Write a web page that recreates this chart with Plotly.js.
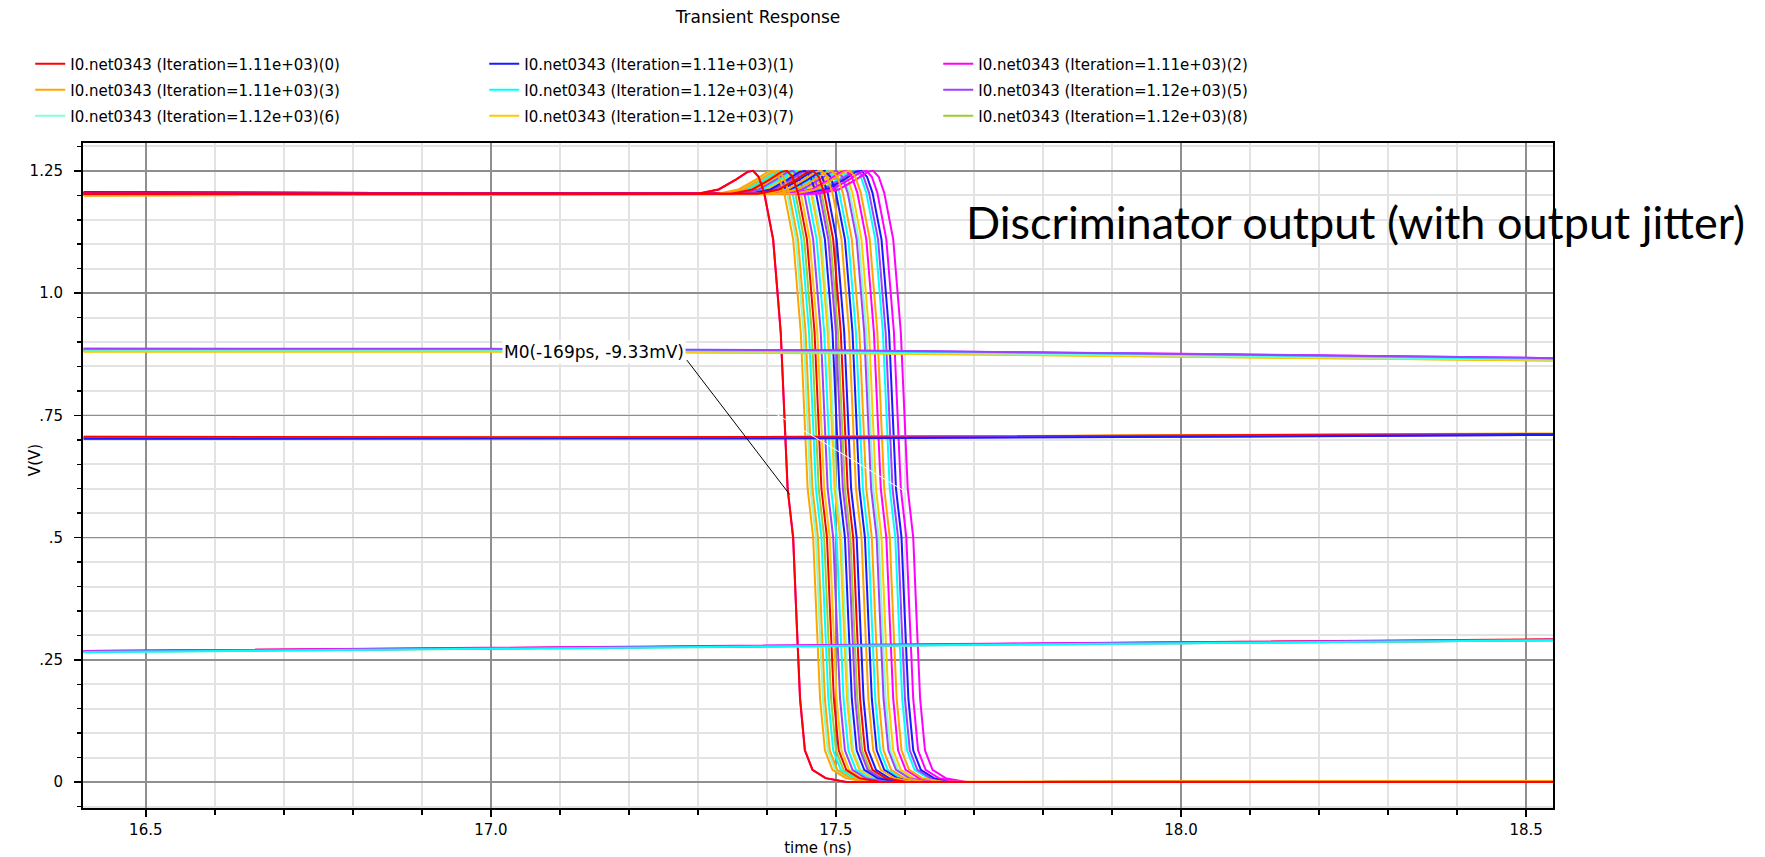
<!DOCTYPE html>
<html>
<head>
<meta charset="utf-8">
<script src="https://cdn.plot.ly/plotly-3.0.1.min.js"></script>
<style>
  html, body { margin: 0; padding: 0; background: #fff; }
  #chart { width: 1765px; height: 857px; }
</style>
</head>
<body>
<div id="chart"></div>
<script>
// Monte Carlo runs of the discriminator output node
const SERIES_NAMES = [
  'I0.net0343 (Iteration=1.11e+03)(0)',
  'I0.net0343 (Iteration=1.11e+03)(1)',
  'I0.net0343 (Iteration=1.11e+03)(2)',
  'I0.net0343 (Iteration=1.11e+03)(3)',
  'I0.net0343 (Iteration=1.12e+03)(4)',
  'I0.net0343 (Iteration=1.12e+03)(5)',
  'I0.net0343 (Iteration=1.12e+03)(6)',
  'I0.net0343 (Iteration=1.12e+03)(7)',
  'I0.net0343 (Iteration=1.12e+03)(8)'
];
const SERIES_COLORS = ['#ff0000', '#1a1aff', '#ff00ff', '#ffa500', '#00ffff',
                       '#a040ff', '#7fffd4', '#ffc800', '#9acd32'];

// Falling edge: time relative to the 0.5 V crossing (ns) and voltage (V)
const EDGE_DT = [-0.138, -0.108, -0.083, -0.066, -0.058, -0.050, -0.042, -0.029,
                 -0.018, -0.008, 0, 0.005, 0.010, 0.017, 0.028, 0.047, 0.077];
const EDGE_V  = [1.203, 1.212, 1.232, 1.248, 1.250, 1.238, 1.205, 1.11,
                 0.92, 0.60, 0.50, 0.33, 0.17, 0.065, 0.025, 0.008, 0.0];

// 0.5 V crossing time of every falling edge, per series (ns)
const CROSS_T = [
  [17.438, 17.487, 17.525],
  [17.513, 17.530, 17.542, 17.595],
  [17.438, 17.573, 17.602, 17.612],
  [17.467, 17.474, 17.537, 17.552, 17.578],
  [17.479, 17.501, 17.547, 17.586],
  [17.496, 17.518, 17.559, 17.590],
  [17.471, 17.508, 17.562],
  [17.491, 17.506, 17.566],
  [17.483, 17.521]
];
const T_START = 16.41;
const T_END = 18.54;
// Level before the edge (at T_START) and after it (at T_END), per series (V)
const HIGH_START = [1.203, 1.206, 1.203, 1.200, 1.203, 1.203, 1.203, 1.201, 1.203];
const LOW_END    = [0.000, 0.001, 0.000, 0.002, 0.000, 0.001, 0.000, 0.001, 0.001];

// Slowly drifting levels of the runs that do not switch
const DRIFT_T = [16.41, 17.0, 17.5, 18.0, 18.54];
const LEVEL_088 = [
  [0.882, 0.882, 0.879, 0.872, 0.863],
  [0.885, 0.884, 0.882, 0.875, 0.866],
  [0.886, 0.885, 0.882, 0.876, 0.867],
  [0.881, 0.881, 0.878, 0.871, 0.862],
  [0.885, 0.885, 0.881, 0.875, 0.865],
  [0.886, 0.886, 0.883, 0.876, 0.867],
  [0.884, 0.884, 0.880, 0.873, 0.864],
  [0.880, 0.880, 0.877, 0.870, 0.862],
  [0.884, 0.883, 0.880, 0.873, 0.864]
];
const LEVEL_070 = [
  [0.706, 0.705, 0.706, 0.709, 0.712],
  [0.702, 0.702, 0.703, 0.706, 0.710],
  [0.703, 0.703, 0.704, 0.707, 0.711],
  [0.706, 0.705, 0.706, 0.710, 0.713],
  [0.703, 0.703, 0.705, 0.708, 0.711],
  [0.703, 0.703, 0.704, 0.707, 0.710],
  [0.704, 0.704, 0.705, 0.708, 0.711],
  [0.705, 0.704, 0.706, 0.709, 0.712],
  [0.704, 0.704, 0.706, 0.709, 0.711]
];
const LEVEL_027 = [
  [0.268, 0.274, 0.279, 0.286, 0.292],
  [0.267, 0.273, 0.278, 0.284, 0.290],
  [0.268, 0.275, 0.280, 0.286, 0.291],
  [0.266, 0.274, 0.279, 0.285, 0.291],
  [0.266, 0.273, 0.278, 0.284, 0.290],
  [0.267, 0.274, 0.280, 0.286, 0.291],
  [0.265, 0.273, 0.278, 0.284, 0.290],
  [0.266, 0.273, 0.279, 0.285, 0.290],
  [0.267, 0.274, 0.279, 0.285, 0.290]
];
// Stacking of the drift lines (drawn first to last)
const ORDER_088 = [0, 1, 8, 2, 3, 7, 6, 4, 5];
const ORDER_070 = [4, 6, 8, 7, 2, 3, 0, 5, 1];
const ORDER_027 = [1, 3, 7, 6, 8, 0, 2, 5, 4];
// Stacking of the switching runs (drawn first to last)
const ORDER_EDGES = [6, 8, 7, 4, 5, 1, 2, 3, 0];

const X_TICKS = [16.5, 17.0, 17.5, 18.0, 18.5];
const X_TICK_TEXT = ['16.5', '17.0', '17.5', '18.0', '18.5'];
const Y_TICKS = [0, 0.25, 0.5, 0.75, 1.0, 1.25];
const Y_TICK_TEXT = ['0', '.25', '.5', '.75', '1.0', '1.25'];

// Marker M0 and its label
const MARKER_T = 17.433, MARKER_V = 0.588;
const MARKER_LABEL = 'M0(-169ps, -9.33mV)';
const LABEL_T = 17.149, LABEL_V = 0.879;
const LEADER_T = 17.284, LEADER_V = 0.863;

const NOTE_TEXT = 'Discriminator output (with output jitter)';

function legendFor(i) { return i < 3 ? 'legend' : (i < 6 ? 'legend2' : 'legend3'); }

// Switching runs of one series: high level, falling edges, low level
function edgeTrace(i) {
  const x = [], y = [];
  CROSS_T[i].forEach(c => {
    x.push(T_START); y.push(HIGH_START[i]);
    EDGE_DT.forEach((d, k) => { x.push(+(c + d).toFixed(4)); y.push(EDGE_V[k]); });
    x.push(T_END); y.push(LOW_END[i]);
    x.push(null); y.push(null);
  });
  return {
    type: 'scatter', mode: 'lines', name: SERIES_NAMES[i],
    x: x, y: y, connectgaps: false,
    line: { color: SERIES_COLORS[i], width: 2 },
    legend: legendFor(i), legendgroup: 's' + i, legendrank: i + 1,
    hoverinfo: 'x+y+name'
  };
}

// One drift line of one series
function levelTrace(level, i) {
  return {
    type: 'scatter', mode: 'lines', name: SERIES_NAMES[i],
    x: DRIFT_T, y: level[i],
    line: { color: SERIES_COLORS[i], width: 2 },
    legend: legendFor(i), legendgroup: 's' + i, showlegend: false,
    hoverinfo: 'x+y+name'
  };
}

const traces = []
  .concat(ORDER_EDGES.map(i => edgeTrace(i)))
  .concat(ORDER_027.map(i => levelTrace(LEVEL_027, i)))
  .concat(ORDER_070.map(i => levelTrace(LEVEL_070, i)))
  .concat(ORDER_088.map(i => levelTrace(LEVEL_088, i)));

const FONT = 'DejaVu Sans, Liberation Sans, sans-serif';
const legendBase = {
  orientation: 'h', xanchor: 'left', yanchor: 'middle', x: -0.0359,
  entrywidth: 409, entrywidthmode: 'pixels', itemwidth: 30,
  traceorder: 'normal',
  font: { family: FONT, size: 15, color: '#000' },
  bgcolor: 'rgba(0,0,0,0)', borderwidth: 0
};

const axisBase = {
  showline: true, linecolor: '#000', linewidth: 2, mirror: true,
  ticks: 'outside', ticklen: 7, tickwidth: 1.5, tickcolor: '#000',
  tickfont: { family: FONT, size: 15, color: '#000' },
  showgrid: true, gridcolor: '#8f8f8f', gridwidth: 1.5,
  zeroline: false, automargin: false
};

const layout = {
  width: 1765, height: 857,
  margin: { l: 83, r: 212, t: 143, b: 49, autoexpand: false },
  paper_bgcolor: '#fff', plot_bgcolor: '#fff',
  title: {
    text: 'Transient Response',
    font: { family: FONT, size: 17, color: '#000' },
    xref: 'container', yref: 'container',
    x: 758 / 1765, xanchor: 'center', y: 1 - 17 / 857, yanchor: 'middle'
  },
  xaxis: Object.assign({}, axisBase, {
    range: [16.409, 18.539],
    tickvals: X_TICKS, ticktext: X_TICK_TEXT,
    minor: { dtick: 0.1, ticks: 'outside', ticklen: 5, tickcolor: '#000',
             showgrid: true, gridcolor: '#e3e3e3', gridwidth: 2 },
    title: { text: 'time (ns)', font: { family: FONT, size: 15, color: '#000' }, standoff: 4 }
  }),
  yaxis: Object.assign({}, axisBase, {
    range: [-0.053, 1.307],
    tickvals: Y_TICKS, ticktext: Y_TICK_TEXT,
    ticklabelstandoff: 8,
    minor: { dtick: 0.05, ticks: 'outside', ticklen: 4, tickcolor: '#000',
             showgrid: true, gridcolor: '#e3e3e3', gridwidth: 2 }
  }),
  legend: Object.assign({}, legendBase, { y: 1.1188 }),
  legend2: Object.assign({}, legendBase, { y: 1.0797 }),
  legend3: Object.assign({}, legendBase, { y: 1.0406 }),
  shapes: [
    { type: 'line', xref: 'x', yref: 'y', x0: 17.361, y0: 0.797, x1: 17.603, y1: 0.592,
      line: { color: '#ffffff', width: 1 } },
    { type: 'line', xref: 'x', yref: 'y', x0: LEADER_T, y0: LEADER_V, x1: MARKER_T, y1: MARKER_V,
      line: { color: '#000', width: 1 } }
  ],
  annotations: [
    { text: 'V(V)', textangle: -90, xref: 'paper', yref: 'paper',
      x: -0.0327, y: 0.523, xanchor: 'center', yanchor: 'middle', showarrow: false,
      font: { family: FONT, size: 15, color: '#000' } },
    { text: MARKER_LABEL, xref: 'x', yref: 'y', x: LABEL_T, y: LABEL_V,
      xanchor: 'center', yanchor: 'middle', showarrow: false, bgcolor: '#fff',
      borderpad: 1, font: { family: FONT, size: 17, color: '#000' } },
    { text: NOTE_TEXT, xref: 'paper', yref: 'paper', x: 0.5993, y: 0.881,
      xanchor: 'left', yanchor: 'middle', showarrow: false,
      font: { family: 'Lato, Open Sans, sans-serif', size: 45, color: '#000' } }
  ]
};

Plotly.newPlot('chart', traces, layout, { staticPlot: true, displayModeBar: false });
</script>
</body>
</html>
